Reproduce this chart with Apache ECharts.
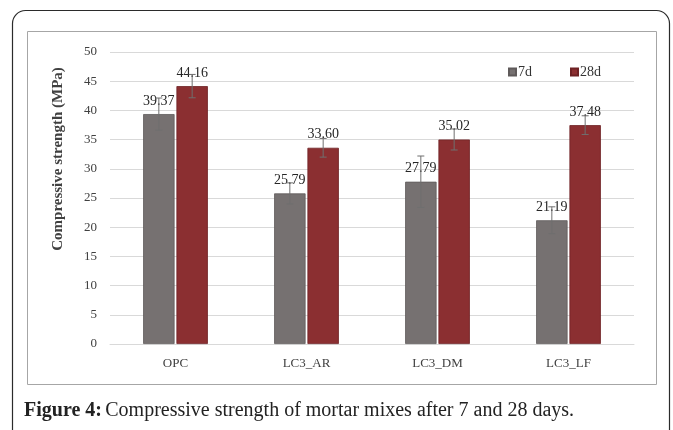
<!DOCTYPE html>
<html>
<head>
<meta charset="utf-8">
<script src="https://cdn.jsdelivr.net/npm/echarts@6/dist/echarts.min.js"></script>
<style>html,body{margin:0;padding:0;background:#fff;}#c{width:673px;height:430px;}</style>
</head>
<body>
<div id="c"></div>
<script>
const categories = ['OPC', 'LC3_AR', 'LC3_DM', 'LC3_LF'];
const values7d = [39.37, 25.79, 27.79, 21.19];
const values28d = [44.16, 33.60, 35.02, 37.48];
const err7d = [2.75, 1.8, 4.4, 2.3];
const err28d = [2.0, 1.6, 1.8, 1.6];
const yTicks = [0, 5, 10, 15, 20, 25, 30, 35, 40, 45, 50];

const FONT = '"Liberation Serif", "DejaVu Serif", serif';
const BAR_W = 0.24, GAP = 0.06;

function errSeries(vals, errs, side) {
  return {
    type: 'custom',
    z: 5,
    silent: true,
    data: vals.map((v, i) => [i, v - errs[i], v + errs[i]]),
    renderItem: function (params, api) {
      const band = api.size([1, 0])[0];
      const bw = band * BAR_W;
      const off = side * (bw + bw * GAP) / 2;
      const lo = api.coord([api.value(0), api.value(1)]);
      const hi = api.coord([api.value(0), api.value(2)]);
      const x = lo[0] + off;
      const cap = 3.5;
      const style = { stroke: '#6f6f6f', lineWidth: 1 };
      return {
        type: 'group',
        children: [
          { type: 'line', shape: { x1: x, y1: hi[1], x2: x, y2: lo[1] }, style: style },
          { type: 'line', shape: { x1: x - cap, y1: hi[1], x2: x + cap, y2: hi[1] }, style: style },
          { type: 'line', shape: { x1: x - cap, y1: lo[1], x2: x + cap, y2: lo[1] }, style: style }
        ]
      };
    }
  };
}

const chart = echarts.init(document.getElementById('c'), null, { renderer: 'canvas' });
chart.setOption({
  animation: false,
  backgroundColor: '#fff',
  grid: { left: 110, right: 39, top: 52, bottom: 86, containLabel: false },
  legend: {
    top: 60, left: 503,
    itemWidth: 7, itemHeight: 7, itemGap: 38,
    icon: 'rect',
    textStyle: { fontFamily: FONT, fontSize: 14, color: '#333', padding: [0, 0, 0, -3] },
    data: ['7d', '28d']
  },
  xAxis: {
    type: 'category',
    data: categories,
    axisLine: { lineStyle: { color: '#d9d9d9' } },
    axisTick: { show: false },
    axisLabel: { fontFamily: FONT, fontSize: 13, color: '#404040', margin: 13 }
  },
  yAxis: {
    type: 'value',
    min: 0, max: 50, interval: 5,
    axisLine: { show: false },
    axisTick: { show: false },
    axisLabel: { fontFamily: FONT, fontSize: 13, color: '#404040', margin: 13,
      formatter: v => yTicks.includes(v) ? String(v) : '' },
    splitLine: { lineStyle: { color: '#d9d9d9', width: 1 } }
  },
  series: [
    {
      name: '7d', type: 'bar', data: values7d,
      barWidth: (BAR_W * 100) + '%', barGap: (GAP * 100) + '%',
      itemStyle: { color: '#767171', borderColor: '#5f5a5a', borderWidth: 0.8 },
      label: { show: true, position: 'top', distance: 6, fontFamily: FONT, fontSize: 14, color: '#262626',
        formatter: p => p.value.toFixed(2) }
    },
    {
      name: '28d', type: 'bar', data: values28d,
      barWidth: (BAR_W * 100) + '%',
      itemStyle: { color: '#8b2f31', borderColor: '#6e2224', borderWidth: 0.8 },
      label: { show: true, position: 'top', distance: 6, fontFamily: FONT, fontSize: 14, color: '#262626',
        formatter: p => p.value.toFixed(2) }
    },
    errSeries(values7d, err7d, -1),
    errSeries(values28d, err28d, 1)
  ],
  graphic: [
    { type: 'rect', z: -10, shape: { x: 12.5, y: 10.5, width: 657, height: 450, r: 13 },
      style: { fill: 'none', stroke: '#2b2b2b', lineWidth: 1.2 } },
    { type: 'rect', z: -9, shape: { x: 27.5, y: 31.5, width: 629, height: 353 },
      style: { fill: 'none', stroke: '#a6a6a6', lineWidth: 1 } },
    { type: 'text', x: 58, y: 159, rotation: Math.PI / 2,
      style: { text: 'Compressive strength (MPa)', fontFamily: FONT, fontSize: 15, fontWeight: 'bold',
        fill: '#404040', align: 'center', verticalAlign: 'middle' } },
    { type: 'text', x: 24, y: 411,
      style: {
        text: '{b|Figure 4:} {r|Compressive strength of mortar mixes after 7 and 28 days.}',
        rich: {
          b: { fontFamily: FONT, fontSize: 20, fontWeight: 'bold', fill: '#222' },
          r: { fontFamily: FONT, fontSize: 20, fill: '#222' }
        },
        verticalAlign: 'middle'
      } }
  ]
});
</script>
</body>
</html>
